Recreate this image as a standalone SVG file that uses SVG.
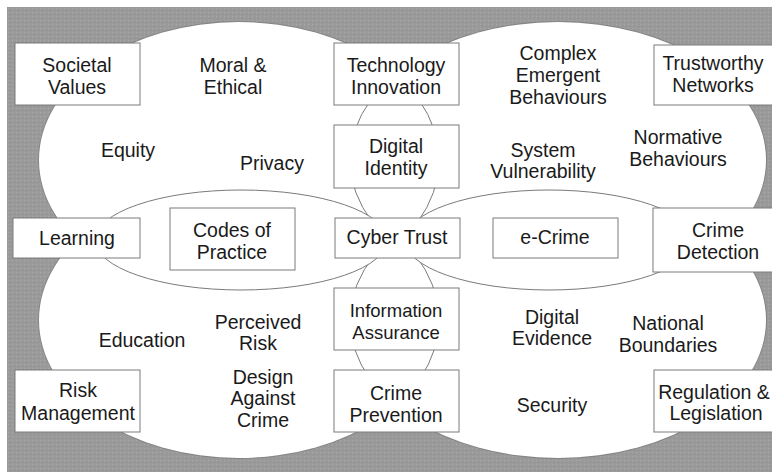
<svg xmlns="http://www.w3.org/2000/svg" width="772" height="472" viewBox="0 0 772 472">
  <defs>
    <pattern id="stipple" width="4" height="4" patternUnits="userSpaceOnUse">
      <rect width="4" height="4" fill="#9a9a9a"/>
      <rect x="0" y="0" width="1" height="1" fill="#a9a9a9"/>
      <rect x="2" y="2" width="1" height="1" fill="#8f8f8f"/>
    </pattern>
    <style>
      .lobe-out { fill: none; stroke: #858585; stroke-width: 2; }
      .lobe { fill: #ffffff; stroke: none; }
      .cross { fill: none; stroke: #7a7a7a; stroke-width: 1; }
      .mid { fill: #ffffff; stroke: #7a7a7a; stroke-width: 1; }
      .box { fill: #ffffff; stroke: #7a7a7a; stroke-width: 1; }
      text { font-family: "Liberation Sans", Arial, sans-serif; font-size: 19.5px; fill: #1a1a1a; text-anchor: middle; }
      .small { font-size: 18.5px; }
    </style>
  </defs>

  <rect x="0" y="0" width="772" height="472" fill="#ffffff"/>
  <rect x="7" y="7" width="765" height="465" fill="url(#stipple)"/>

  <g id="lobes">
    <ellipse class="lobe-out" cx="239" cy="160" rx="200" ry="138"/>
    <ellipse class="lobe-out" cx="558" cy="160" rx="208" ry="138"/>
    <ellipse class="lobe-out" cx="239" cy="320" rx="200" ry="138"/>
    <ellipse class="lobe-out" cx="558" cy="320" rx="208" ry="138"/>
    <ellipse class="lobe" cx="239" cy="160" rx="200" ry="138"/>
    <ellipse class="lobe" cx="558" cy="160" rx="208" ry="138"/>
    <ellipse class="lobe" cx="239" cy="320" rx="200" ry="138"/>
    <ellipse class="lobe" cx="558" cy="320" rx="208" ry="138"/>
  </g>

  <g id="connectors">
    <path class="cross" d="M419.1,100 A200,138 0 0 1 417.7,222"/>
    <path class="cross" d="M370.7,100 A208,138 0 0 0 372.2,222"/>
    <path class="cross" d="M415.4,255 A200,138 0 0 1 419.1,380"/>
    <path class="cross" d="M374.5,255 A208,138 0 0 0 370.7,380"/>
    <ellipse class="mid" cx="241" cy="240" rx="146" ry="50"/>
    <ellipse class="mid" cx="549" cy="240" rx="144" ry="50"/>
  </g>

  <g id="societal-values">
    <rect class="box" x="15" y="43" width="125" height="62"/>
    <text x="77" y="72">Societal</text>
    <text x="77" y="94">Values</text>
  </g>
  <g id="moral-ethical">
    <text x="233" y="72">Moral &amp;</text>
    <text x="233" y="94">Ethical</text>
  </g>
  <g id="technology-innovation">
    <rect class="box" x="334" y="43" width="125" height="62"/>
    <text x="396" y="72">Technology</text>
    <text x="396" y="94">Innovation</text>
  </g>
  <g id="complex-emergent">
    <text x="558" y="60">Complex</text>
    <text x="558" y="82">Emergent</text>
    <text x="558" y="104">Behaviours</text>
  </g>
  <g id="trustworthy-networks">
    <rect class="box" x="654" y="45" width="136" height="60"/>
    <text x="713" y="70">Trustworthy</text>
    <text x="713" y="92">Networks</text>
  </g>
  <g id="equity">
    <text x="128" y="157">Equity</text>
  </g>
  <g id="privacy">
    <text x="272" y="170">Privacy</text>
  </g>
  <g id="digital-identity">
    <rect class="box" x="334" y="125" width="125" height="63"/>
    <text x="396" y="153">Digital</text>
    <text x="396" y="175">Identity</text>
  </g>
  <g id="system-vulnerability">
    <text x="543" y="157">System</text>
    <text x="543" y="178">Vulnerability</text>
  </g>
  <g id="normative-behaviours">
    <text x="678" y="144">Normative</text>
    <text x="678" y="166">Behaviours</text>
  </g>
  <g id="learning">
    <rect class="box" x="13" y="218" width="127" height="40"/>
    <text x="77" y="245">Learning</text>
  </g>
  <g id="codes-of-practice">
    <rect class="box" x="170" y="208" width="125" height="62"/>
    <text x="232" y="237">Codes of</text>
    <text x="232" y="259">Practice</text>
  </g>
  <g id="cyber-trust">
    <rect class="box" x="335" y="218" width="125" height="40"/>
    <text x="397" y="244">Cyber Trust</text>
  </g>
  <g id="e-crime">
    <rect class="box" x="493" y="218" width="125" height="40"/>
    <text x="555" y="244">e-Crime</text>
  </g>
  <g id="crime-detection">
    <rect class="box" x="653" y="208" width="137" height="64"/>
    <text x="718" y="237">Crime</text>
    <text x="718" y="259">Detection</text>
  </g>
  <g id="education">
    <text x="142" y="347">Education</text>
  </g>
  <g id="perceived-risk">
    <text x="258" y="329">Perceived</text>
    <text x="258" y="350">Risk</text>
  </g>
  <g id="information-assurance">
    <rect class="box" x="334" y="288" width="125" height="62"/>
    <text class="small" x="396" y="317">Information</text>
    <text class="small" x="396" y="339">Assurance</text>
  </g>
  <g id="digital-evidence">
    <text x="552" y="324">Digital</text>
    <text x="552" y="345">Evidence</text>
  </g>
  <g id="national-boundaries">
    <text x="668" y="330">National</text>
    <text x="668" y="352">Boundaries</text>
  </g>
  <g id="design-against-crime">
    <text x="263" y="384">Design</text>
    <text x="263" y="405">Against</text>
    <text x="263" y="427">Crime</text>
  </g>
  <g id="risk-management">
    <rect class="box" x="15" y="370" width="125" height="62"/>
    <text x="78" y="397">Risk</text>
    <text x="78" y="420">Management</text>
  </g>
  <g id="crime-prevention">
    <rect class="box" x="334" y="370" width="125" height="62"/>
    <text x="396" y="400">Crime</text>
    <text x="396" y="422">Prevention</text>
  </g>
  <g id="security">
    <text x="552" y="412">Security</text>
  </g>
  <g id="regulation-legislation">
    <rect class="box" x="654" y="370" width="136" height="62"/>
    <text x="714" y="399">Regulation &amp;</text>
    <text x="716" y="420">Legislation</text>
  </g>
</svg>
